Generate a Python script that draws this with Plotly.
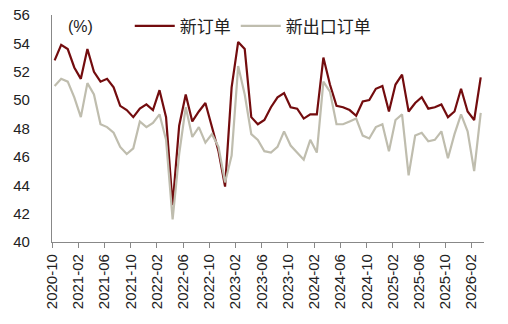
import plotly.graph_objects as go
import pandas as pd

months = pd.period_range("2020-10", "2026-03", freq="M").strftime("%Y-%m").tolist()

new_orders = [52.8, 53.9, 53.6, 52.3, 51.5, 53.6, 52.0, 51.3, 51.5, 50.9, 49.6, 49.3,
              48.8, 49.4, 49.7, 49.3, 50.7, 48.8, 42.6, 48.2, 50.4, 48.5, 49.2, 49.8,
              48.1, 46.4, 43.9, 50.9, 54.1, 53.6, 48.8, 48.3, 48.6, 49.5, 50.2, 50.5,
              49.5, 49.4, 48.7, 49.0, 49.0, 53.0, 51.1, 49.6, 49.5, 49.3, 48.9, 49.9,
              50.0, 50.8, 51.0, 49.2, 51.1, 51.8, 49.2, 49.8, 50.2, 49.4, 49.5, 49.7,
              48.8, 49.2, 50.8, 49.2, 48.6, 51.6]

new_export_orders = [51.0, 51.5, 51.3, 50.2, 48.8, 51.2, 50.4, 48.3, 48.1, 47.7, 46.7, 46.2,
                     46.6, 48.5, 48.1, 48.4, 49.0, 47.2, 41.6, 46.2, 49.5, 47.4, 48.1, 47.0,
                     47.6, 46.7, 44.2, 46.1, 52.4, 50.4, 47.6, 47.2, 46.4, 46.3, 46.7, 47.8,
                     46.8, 46.3, 45.8, 47.2, 46.3, 51.3, 50.6, 48.3, 48.3, 48.5, 48.7, 47.5,
                     47.3, 48.1, 48.3, 46.4, 48.6, 49.0, 44.7, 47.5, 47.7, 47.1, 47.2, 47.8,
                     45.9, 47.6, 49.0, 47.8, 45.0, 49.1]

tick_step = 4
tick_idx = list(range(0, len(months), tick_step))
tick_labels = [months[i] for i in tick_idx]

x_pos = [i + 0.4 for i in range(len(months))]

fig = go.Figure()
fig.add_trace(go.Scatter(x=x_pos, y=new_orders, mode="lines", name="新订单",
                         line=dict(color="#730C0E", width=2.2)))
fig.add_trace(go.Scatter(x=x_pos, y=new_export_orders, mode="lines", name="新出口订单",
                         line=dict(color="#BFBDAE", width=2.2)))

fig.update_layout(
    width=508, height=324,
    margin=dict(l=52, r=24, t=15, b=82, autoexpand=False),
    paper_bgcolor="white", plot_bgcolor="white",
    font=dict(family="Liberation Sans, Arial, sans-serif", color="#222222", size=15),
    showlegend=True,
    legend=dict(orientation="h", x=0.18, y=0.95, xanchor="left", yanchor="middle",
                bgcolor="rgba(0,0,0,0)", itemwidth=40,
                font=dict(family="Noto Sans CJK SC, sans-serif", size=17, color="#222222"),
                tracegroupgap=0),
    annotations=[dict(text="(%)", x=0.032, y=0.95, xref="paper", yref="paper",
                      xanchor="left", yanchor="middle", showarrow=False,
                      font=dict(size=16, color="#222222"))],
)

fig.update_xaxes(
    range=[0, 65.9], tickmode="array", tickvals=tick_idx, ticktext=tick_labels,
    tickangle=-90, ticks="outside", ticklen=5, tickcolor="#888888",
    showline=True, linecolor="#888888", linewidth=1.2, showgrid=False, zeroline=False,
    tickfont=dict(size=15, color="#222222"),
)
fig.update_yaxes(
    range=[40, 56], dtick=2, showline=True, linecolor="#888888", linewidth=1.2,
    ticks="", showgrid=False, zeroline=False, ticklabelstandoff=18,
    tickfont=dict(size=15, color="#222222"),
)

fig.write_html("out.html")
